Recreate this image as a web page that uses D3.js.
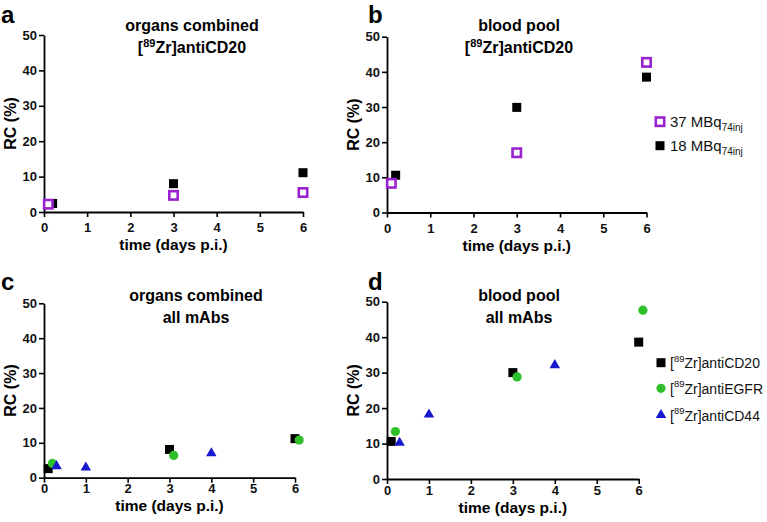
<!DOCTYPE html>
<html><head><meta charset="utf-8">
<script src="https://cdn.jsdelivr.net/npm/d3@7"></script>
<style>body{margin:0;background:#fff;} svg{display:block;} text{font-family:"Liberation Sans",Arial,sans-serif;}</style>
</head><body>
<svg id="c" width="767" height="522"></svg>
<script>
// ---- data ----
const xTicks = [0, 1, 2, 3, 4, 5, 6];
const yTicks = [0, 10, 20, 30, 40, 50];
const doseLabels = ["37 MBq", "18 MBq"];
const mabLabels = ["antiCD20", "antiEGFR", "antiCD44"];

const aX37 = [0.1, 3, 6], aY37 = [2.2, 4.7, 5.5];
const aX18 = [0.2, 3, 6], aY18 = [2.4, 8.0, 11.1];
const bX37 = [0.1, 3, 6], bY37 = [8.3, 17.0, 42.7];
const bX18 = [0.2, 3, 6], bY18 = [10.6, 29.9, 38.5];

const cdX20 = [0.1, 3, 6],   cY20 = [2.6, 8.1, 11.2];
const cdXEG = [0.2, 3.1, 6.1], cYEG = [4.1, 6.4, 10.8];
const cdX44 = [0.3, 1, 4],   cY44 = [3.3, 2.9, 7.0];
const dY20 = [10.6, 30.0, 38.6];
const dYEG = [13.4, 28.8, 47.6];
const dY44 = [10.2, 18.2, 32.1];

// ---- styles ----
const PURPLE = "#9b22cf", GREEN = "#2fbf2a", BLUE = "#1818d0", BLACK = "#000";
const FONT = "Liberation Sans, Arial, sans-serif";
const svg = d3.select("#c");

function panel(o) {
  const x = d3.scaleLinear().domain([0, 6]).range([o.x0, o.x6]);
  const y = d3.scaleLinear().domain([0, 50]).range([o.y0, o.y50]);
  const g = svg.append("g");
  const ax = g.append("g").attr("transform", `translate(0,${o.y0})`)
    .call(d3.axisBottom(x).tickValues(xTicks).tickFormat(d3.format("d")).tickSize(5).tickSizeOuter(0));
  const ay = g.append("g").attr("transform", `translate(${o.x0},0)`)
    .call(d3.axisLeft(y).tickValues(yTicks).tickFormat(d3.format("d")).tickSize(5).tickSizeOuter(0));
  [ax, ay].forEach(a => {
    a.attr("font-family", FONT);
    a.select(".domain").attr("stroke", "#000").attr("stroke-width", 1.8);
    a.selectAll(".tick line").attr("stroke", "#000").attr("stroke-width", 1.6);
    a.selectAll("text").attr("font-size", 13).attr("font-weight", "bold")
      .attr("font-family", FONT).attr("fill", "#111");
  });
  ax.selectAll("text").attr("dy", o.tdy);
  ay.selectAll("text").attr("x", -7);
  // axis labels
  g.append("text").attr("transform", `translate(${o.x0 - 34},${(o.y0 + o.y50) / 2}) rotate(-90)`)
    .attr("text-anchor", "middle").attr("dy", "0.35em").attr("font-size", 16).attr("font-weight", "bold")
    .text("RC (%)");
  g.append("text").attr("x", x(3)).attr("y", o.y0 + o.xl).attr("text-anchor", "middle")
    .attr("font-size", 15.5).attr("font-weight", "bold").text("time (days p.i.)");
  // panel letter
  g.append("text").attr("x", o.lx).attr("y", o.ly).attr("font-size", 24).attr("font-weight", "bold")
    .text(o.letter);
  // title
  const t = g.append("text").attr("text-anchor", "middle").attr("font-size", 16).attr("font-weight", "bold");
  t.append("tspan").attr("x", o.tx).attr("y", o.ty).text(o.t1);
  const l2 = t.append("tspan").attr("x", o.tx).attr("y", o.ty + 22);
  if (o.t2sup) {
    l2.append("tspan").text("[");
    l2.append("tspan").attr("font-size", 11).attr("dy", -6).text("89");
    l2.append("tspan").attr("dy", 6).text("Zr]antiCD20");
  } else l2.text(o.t2);
  return {g, x, y};
}

function sq(g, cx, cy, fill) {
  g.append("rect").attr("x", cx - 4.5).attr("y", cy - 4.5).attr("width", 9).attr("height", 9).attr("fill", fill);
}
function osq(g, cx, cy) {
  g.append("rect").attr("x", cx - 4.2).attr("y", cy - 4.2).attr("width", 8.4).attr("height", 8.4)
    .attr("fill", "#fff").attr("stroke", PURPLE).attr("stroke-width", 2.6);
}
function circ(g, cx, cy) {
  g.append("circle").attr("cx", cx).attr("cy", cy).attr("r", 4.6).attr("fill", GREEN);
}
function tri(g, cx, cy) {
  g.append("path").attr("transform", `translate(${cx},${cy})`)
    .attr("d", d3.symbol().type(d3.symbolTriangle).size(48)()).attr("fill", BLUE);
}

// Panel a
const A = panel({x0: 44, x6: 303, y0: 212, y50: 35, letter: "a", lx: 1, ly: 23, xl: 38, tdy: "0.95em",
  tx: 192, ty: 31, t1: "organs combined", t2sup: true});
aX18.forEach((v, i) => sq(A.g, A.x(v), A.y(aY18[i]), BLACK));
aX37.forEach((v, i) => osq(A.g, A.x(v), A.y(aY37[i])));

// Panel b
const B = panel({x0: 387, x6: 646.5, y0: 212.5, y50: 36.7, letter: "b", lx: 368, ly: 23, xl: 38, tdy: "0.95em",
  tx: 519, ty: 31, t1: "blood pool", t2sup: true});
bX18.forEach((v, i) => sq(B.g, B.x(v), B.y(bY18[i]), BLACK));
bX37.forEach((v, i) => osq(B.g, B.x(v), B.y(bY37[i])));
// legend b
osq(B.g, 660, 121.7);
sq(B.g, 660, 145.7, BLACK);
[[121.7, doseLabels[0]], [145.7, doseLabels[1]]].forEach(([yy, lab]) => {
  const t = B.g.append("text").attr("x", 670).attr("y", yy + 5).attr("font-size", 15).attr("fill", "#111");
  t.append("tspan").text(lab);
  t.append("tspan").attr("font-size", 10).attr("dy", 4).text("74inj");
});

// Panel c
const C = panel({x0: 44, x6: 295, y0: 477.7, y50: 303.3, letter: "c", lx: 1, ly: 290, xl: 33, tdy: "0.6em",
  tx: 196, ty: 301, t1: "organs combined", t2: "all mAbs"});
cdX20.forEach((v, i) => sq(C.g, C.x(v), C.y(cY20[i]), BLACK));
cdXEG.forEach((v, i) => circ(C.g, C.x(v), C.y(cYEG[i])));
cdX44.forEach((v, i) => tri(C.g, C.x(v), C.y(cY44[i])));

// Panel d
const D = panel({x0: 387, x6: 638.7, y0: 479, y50: 301.7, letter: "d", lx: 368, ly: 290, xl: 34, tdy: "0.6em",
  tx: 519, ty: 301, t1: "blood pool", t2: "all mAbs"});
cdX20.forEach((v, i) => sq(D.g, D.x(v), D.y(dY20[i]), BLACK));
cdXEG.forEach((v, i) => circ(D.g, D.x(v), D.y(dYEG[i])));
cdX44.forEach((v, i) => tri(D.g, D.x(v), D.y(dY44[i])));
// legend d
const legY = [362.7, 388.3, 415];
sq(D.g, 661, legY[0], BLACK);
circ(D.g, 661, legY[1]);
tri(D.g, 661, legY[2]);
mabLabels.forEach((lab, i) => {
  const t = D.g.append("text").attr("x", 670).attr("y", legY[i] + 5.5).attr("font-size", 14).attr("fill", "#111");
  t.append("tspan").text("[");
  t.append("tspan").attr("font-size", 9.5).attr("dy", -6.5).text("89");
  t.append("tspan").attr("dy", 6.5).text("Zr]" + lab);
});
</script>
</body></html>
